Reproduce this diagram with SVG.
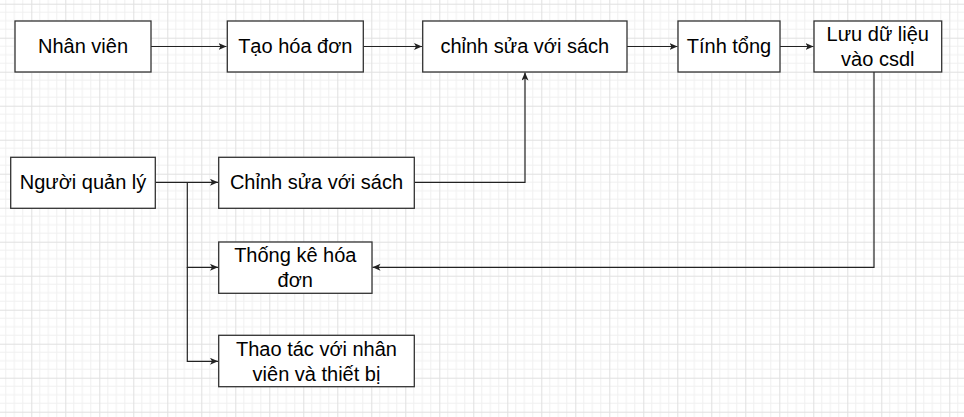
<svg xmlns="http://www.w3.org/2000/svg" width="964" height="417" viewBox="0 0 964 417">
<style>
.box{fill:#ffffff;stroke:#333333;stroke-width:1.3}
.lbl{font-family:"Liberation Sans",Arial,sans-serif;font-size:20px;fill:#000000;text-anchor:middle}
.edge{fill:none;stroke:#222222;stroke-width:1.2}
</style>
<defs>
<pattern id="grid" width="34" height="34" patternUnits="userSpaceOnUse" x="31.3" y="3.7">
<path d="M8.5 0V34M17 0V34M25.5 0V34M0 8.5H34M0 17H34M0 25.5H34" stroke="#f0f0f0" stroke-width="1" fill="none"/>
<path d="M0.5 0V34M0 0.5H34" stroke="#e0e0e0" stroke-width="1" fill="none"/>
</pattern>
<marker id="arr" markerWidth="10" markerHeight="8" refX="8" refY="3.5" orient="auto" markerUnits="userSpaceOnUse">
<path d="M0,0 L8,3.5 L0,7 L2,3.5 Z" fill="#222222"/>
</marker>
</defs>
<rect width="964" height="417" fill="#ffffff"/>
<rect width="964" height="417" fill="url(#grid)"/>
<g id="connectors">
<path class="edge" d="M151 46.5H226.5" marker-end="url(#arr)"/>
<path class="edge" d="M363 46.5H422" marker-end="url(#arr)"/>
<path class="edge" d="M627 46.5H677.5" marker-end="url(#arr)"/>
<path class="edge" d="M780 46.5H813.5" marker-end="url(#arr)"/>
<path class="edge" d="M155.3 182.3H218" marker-end="url(#arr)"/>
<path class="edge" d="M187.3 182.3V267.3H218" marker-end="url(#arr)"/>
<path class="edge" d="M187.3 267.3V361.3H218" marker-end="url(#arr)"/>
<path class="edge" d="M414.3 182.3H525V72.5" marker-end="url(#arr)"/>
<path class="edge" d="M874 72V267.3H372.5" marker-end="url(#arr)"/>
</g>
<g id="nhan-vien">
<rect class="box" x="15" y="21" width="136" height="51"/>
<text class="lbl" x="83" y="53">Nhân viên</text>
</g>
<g id="tao-hoa-don">
<rect class="box" x="227.3" y="21" width="136" height="51"/>
<text class="lbl" x="295.3" y="53">Tạo hóa đơn</text>
</g>
<g id="chinh-sua-sach-1">
<rect class="box" x="422.7" y="21" width="204.3" height="51"/>
<text class="lbl" x="524.8" y="53">chỉnh sửa với sách</text>
</g>
<g id="tinh-tong">
<rect class="box" x="678" y="21" width="102" height="51"/>
<text class="lbl" x="729" y="53">Tính tổng</text>
</g>
<g id="luu-du-lieu">
<rect class="box" x="814" y="21" width="127.7" height="51"/>
<text class="lbl" x="877.8" y="41">Lưu dữ liệu</text>
<text class="lbl" x="877.8" y="66">vào csdl</text>
</g>
<g id="nguoi-quan-ly">
<rect class="box" x="10.7" y="157.3" width="144.6" height="51"/>
<text class="lbl" x="83" y="189">Người quản lý</text>
</g>
<g id="chinh-sua-sach-2">
<rect class="box" x="218.7" y="157.3" width="195.6" height="51"/>
<text class="lbl" x="316.5" y="189">Chỉnh sửa với sách</text>
</g>
<g id="thong-ke">
<rect class="box" x="218.7" y="242" width="153.3" height="51.3"/>
<text class="lbl" x="295.3" y="262">Thống kê hóa</text>
<text class="lbl" x="295.3" y="287">đơn</text>
</g>
<g id="thao-tac">
<rect class="box" x="218.7" y="335.3" width="195.6" height="51.4"/>
<text class="lbl" x="316.5" y="356">Thao tác với nhân</text>
<text class="lbl" x="316.5" y="380.5">viên và thiết bị</text>
</g>
</svg>
